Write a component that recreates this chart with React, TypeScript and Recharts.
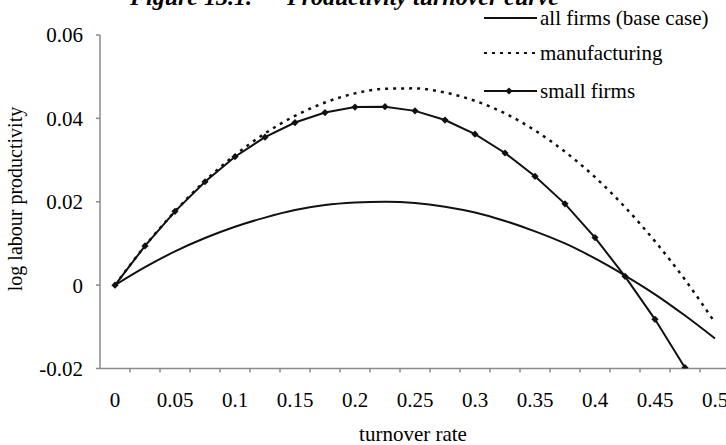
import { LineChart, Line, XAxis, YAxis, Legend } from 'recharts';

const FONT = 'Liberation Serif, Times New Roman, serif';

// turnover rate categories (Excel-style category axis, one per 0.025)
const turnover = [
  0, 0.025, 0.05, 0.075, 0.1, 0.125, 0.15, 0.175, 0.2, 0.225, 0.25,
  0.275, 0.3, 0.325, 0.35, 0.375, 0.4, 0.425, 0.45, 0.475, 0.5,
];

const allFirms = [
  0, 0.0043, 0.0081, 0.0113, 0.014, 0.0162, 0.018, 0.0192, 0.0198, 0.02, 0.0197,
  0.0188, 0.0174, 0.0154, 0.0129, 0.01, 0.0064, 0.0023, -0.0022, -0.0073, -0.0128,
];

const manufacturing = [
  0, 0.0094, 0.0177, 0.025, 0.0312, 0.0364, 0.0406, 0.0438, 0.046, 0.0471, 0.0472,
  0.0462, 0.0442, 0.0412, 0.0371, 0.032, 0.0259, 0.0187, 0.0105, 0.0013, -0.009,
];

const smallFirms = [
  0, 0.0094, 0.0177, 0.0248, 0.0308, 0.0355, 0.039, 0.0414, 0.0427, 0.0428, 0.0418,
  0.0396, 0.0362, 0.0317, 0.0261, 0.0195, 0.0114, 0.0021, -0.0082, -0.0198, null,
];

const xLabelValues = [0, 0.05, 0.1, 0.15, 0.2, 0.25, 0.3, 0.35, 0.4, 0.45, 0.5];
const xLabelText = ['0', '0.05', '0.1', '0.15', '0.2', '0.25', '0.3', '0.35', '0.4', '0.45', '0.5'];
const yTicks = [-0.02, 0, 0.02, 0.04, 0.06];
const yLabelText = ['-0.02', '0', '0.02', '0.04', '0.06'];

const data = turnover.map((x, i) => ({
  x,
  allFirms: allFirms[i],
  manufacturing: manufacturing[i],
  smallFirms: smallFirms[i],
}));

// tick marks sit between categories, labels on every other category
const halfStep = 0.0125;
const boundaries = turnover.map(t => t + halfStep);
const xTicks = [...xLabelValues, ...boundaries].sort((a, b) => a - b);

const AXIS = '#8a8a8a';
const INK = '#111';

function XTick({ x, y, payload }: any) {
  const idx = xLabelValues.findIndex(v => Math.abs(v - payload.value) < 1e-6);
  if (idx >= 0) {
    return (
      <text x={x} y={y + 38} textAnchor="middle" fontSize={21} fontFamily={FONT} fill="#000">
        {xLabelText[idx]}
      </text>
    );
  }
  return <line x1={x} x2={x} y1={y} y2={y + 4} stroke={AXIS} strokeWidth={1.5} />;
}

function Diamond({ cx, cy, s = 3.6 }: { cx: number; cy: number; s?: number }) {
  return <path d={`M${cx},${cy - s}L${cx + s},${cy}L${cx},${cy + s}L${cx - s},${cy}Z`} fill={INK} />;
}

function SmallDot(props: any) {
  const { cx, cy, index, value } = props;
  if (value == null || cx == null || cy == null) return <g key={`d${index}`} />;
  return <Diamond key={`d${index}`} cx={cx} cy={cy} />;
}

function LegendBox() {
  const rows = [
    { label: 'all firms (base case)', y: 18, dash: undefined, dot: false },
    { label: 'manufacturing', y: 53, dash: '3 5', dot: false },
    { label: 'small firms', y: 91, dash: undefined, dot: true },
  ];
  return (
    <svg width={243} height={110} style={{ display: 'block', overflow: 'visible' }}>
      {rows.map(r => (
        <g key={r.label}>
          <line x1={1} x2={54} y1={r.y} y2={r.y} stroke={INK} strokeWidth={2} strokeDasharray={r.dash} />
          {r.dot && <Diamond cx={26} cy={r.y} />}
          <text x={57} y={r.y + 7} fontSize={21} fontFamily={FONT} fill="#000">
            {r.label}
          </text>
        </g>
      ))}
    </svg>
  );
}

export default function App() {
  return (
    <div style={{ position: 'absolute', left: 0, top: 0, width: 726, height: 445, overflow: 'hidden', background: '#fff' }}>
      <LineChart width={740} height={445} data={data} margin={{ top: 35, right: 10, bottom: 0, left: 0 }}>
        <XAxis
          dataKey="x"
          type="number"
          domain={[-halfStep, 0.5 + halfStep]}
          ticks={xTicks}
          interval={0}
          allowDataOverflow
          height={76.5}
          tickSize={0}
          tickMargin={0}
          tickLine={false}
          axisLine={{ stroke: AXIS, strokeWidth: 1.5 }}
          tick={<XTick />}
          label={{
            content: () => (
              <text x={413} y={441} textAnchor="middle" fontSize={21} fontFamily={FONT} fill="#000">
                turnover rate
              </text>
            ),
          }}
        />
        <YAxis
          type="number"
          domain={[-0.02, 0.06]}
          ticks={yTicks}
          allowDataOverflow
          width={100}
          tickSize={4}
          tickMargin={13}
          tickLine={{ stroke: AXIS, strokeWidth: 1.5 }}
          axisLine={{ stroke: AXIS, strokeWidth: 1.5 }}
          tick={{ fill: '#000', fontSize: 21, fontFamily: FONT }}
          tickFormatter={(v: number) => yLabelText[yTicks.findIndex(t => Math.abs(t - v) < 1e-9)] ?? String(v)}
          label={{
            content: () => (
              <text
                x={22}
                y={199}
                transform="rotate(-90, 22, 199)"
                textAnchor="middle"
                fontSize={20}
                fontFamily={FONT}
                fill="#000"
              >
                log labour productivity
              </text>
            ),
          }}
        />
        <Legend
          layout="horizontal"
          verticalAlign="middle"
          align="center"
          wrapperStyle={{ top: 0, left: 483, width: 243, height: 110 }}
          content={() => <LegendBox />}
        />
        <Line
          dataKey="allFirms"
          name="all firms (base case)"
          type="monotone"
          stroke={INK}
          strokeWidth={2}
          dot={false}
          isAnimationActive={false}
        />
        <Line
          dataKey="manufacturing"
          name="manufacturing"
          type="monotone"
          stroke={INK}
          strokeWidth={2.5}
          strokeDasharray="3 5"
          dot={false}
          isAnimationActive={false}
        />
        <Line
          dataKey="smallFirms"
          name="small firms"
          type="linear"
          stroke={INK}
          strokeWidth={2}
          dot={SmallDot}
          isAnimationActive={false}
        />
      </LineChart>
      <svg width={726} height={20} style={{ position: 'absolute', left: 0, top: 0, pointerEvents: 'none' }}>
        <text x={252} y={5} textAnchor="end" fontSize={24} fontWeight="bold" fontStyle="italic" fontFamily={FONT} fill="#000">
          Figure 13.1.
        </text>
        <text x={287} y={5} fontSize={24} fontWeight="bold" fontStyle="italic" fontFamily={FONT} fill="#000">
          Productivity turnover curve
        </text>
      </svg>
    </div>
  );
}
